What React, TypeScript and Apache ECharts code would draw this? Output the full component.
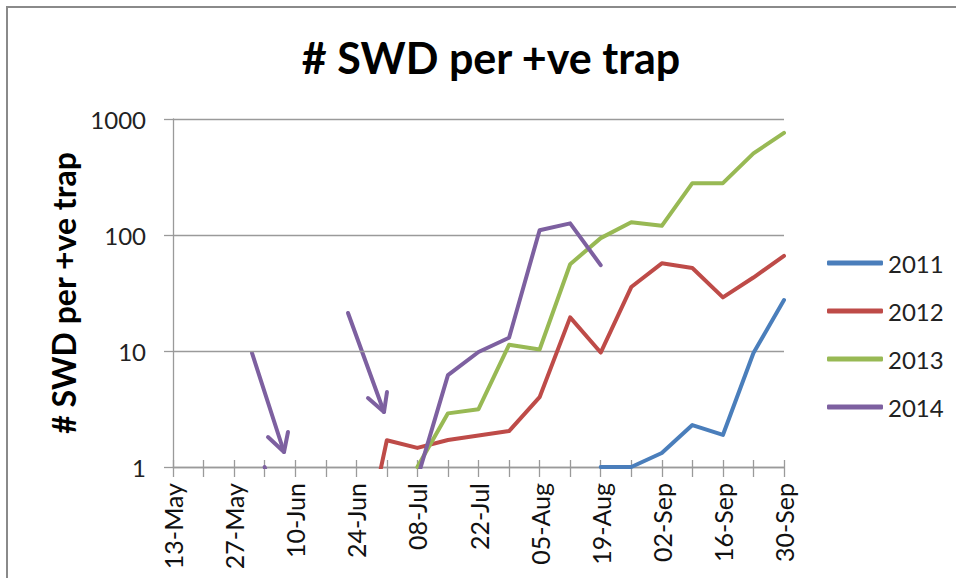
import { useEffect, useRef } from 'react';
import * as echarts from 'echarts';

const weeks = ['13-May','20-May','27-May','03-Jun','10-Jun','17-Jun','24-Jun','01-Jul','08-Jul','15-Jul','22-Jul','29-Jul','05-Aug','12-Aug','19-Aug','26-Aug','02-Sep','09-Sep','16-Sep','23-Sep','30-Sep'];

const s2011 = [null,null,null,null,null,null,null,null,null,null,null,null,null,null,1,1,1.32,2.3,1.89,9.6,27.5];
const s2012 = [null,null,null,null,null,null,0.1,1.7,1.46,1.71,1.87,2.04,4.0,19.5,9.7,35.6,57,52,29,43,66];
const s2013 = [null,null,null,null,null,null,null,null,1,2.9,3.15,11.3,10.3,56,94,129,120,280,280,505,760];
const s2014 = [null,null,null,1,0.1,null,null,null,0.8,6.2,9.8,13,110,126,55,null,null,null,null,null,null];

const seriesNames = ['2011','2012','2013','2014'];
const seriesColors = ['#4A7EBB','#BE4B48','#98B954','#7D60A0'];

const yTicks = [1, 10, 100, 1000];

// annotation arrows (pixel positions)
const arrows = [
  { shaft: [[252,353],[284,452]], head: [[268,437],[284,452],[288,432]] },
  { shaft: [[348,313],[384,412]], head: [[368,398],[384,412],[387,392]] },
];

const FONT = 'Lato';
const axisGray = '#9a9a9a';

export default function App() {
  const ref = useRef<HTMLDivElement>(null);
  useEffect(() => {
    if (!ref.current) return;
    const chart = echarts.init(ref.current, undefined, { renderer: 'svg' });
    const data = [s2011, s2012, s2013, s2014];
    const graphics: any[] = [
      {
        type: 'rect',
        shape: { x: 7, y: 7, width: 980, height: 600 },
        style: { fill: 'none', stroke: '#8a8a8a', lineWidth: 2 },
        silent: true,
      },
    ];
    arrows.forEach((a) => {
      graphics.push({
        type: 'polyline',
        shape: { points: a.shaft },
        style: { stroke: seriesColors[3], lineWidth: 4, lineCap: 'round', fill: 'none' },
      });
      graphics.push({
        type: 'polyline',
        shape: { points: a.head },
        style: { stroke: seriesColors[3], lineWidth: 4, lineCap: 'round', lineJoin: 'round', fill: 'none' },
      });
    });
    chart.setOption({
      animation: false,
      backgroundColor: '#ffffff',
      title: {
        text: '# SWD per +ve trap',
        left: 486,
        top: 31,
        textAlign: 'center',
        textStyle: { fontFamily: FONT, fontWeight: 'bold', fontSize: 43, color: '#000' },
      },
      grid: { left: 173, right: 172, top: 119, bottom: 111, containLabel: false },
      legend: {
        orient: 'vertical',
        left: 822,
        top: 246,
        itemWidth: 56,
        itemHeight: 5,
        itemGap: 24,
        icon: 'roundRect',
        data: seriesNames,
        textStyle: { fontFamily: FONT, fontSize: 24, color: '#222', lineHeight: 24 },
      },
      xAxis: [
        {
          type: 'category',
          data: weeks,
          boundaryGap: false,
          position: 'bottom',
          axisLine: { show: true, lineStyle: { color: axisGray, width: 1.3 } },
          axisTick: { show: true, interval: 0, length: 10, lineStyle: { color: axisGray, width: 1.3 } },
          axisLabel: { interval: 1, rotate: 90, margin: 16, fontFamily: FONT, fontSize: 25, color: '#111' },
          splitLine: { show: false },
        },
        {
          type: 'category',
          data: weeks,
          boundaryGap: false,
          position: 'bottom',
          axisLine: { show: false },
          axisTick: { show: true, inside: true, interval: 0, length: 7, lineStyle: { color: axisGray, width: 1.3 } },
          axisLabel: { show: false },
          splitLine: { show: false },
        },
      ],
      yAxis: {
        type: 'log',
        logBase: 10,
        min: yTicks[0],
        max: yTicks[yTicks.length - 1],
        name: '# SWD per +ve trap',
        nameLocation: 'middle',
        nameRotate: 90,
        nameGap: 88,
        nameTextStyle: { fontFamily: FONT, fontWeight: 'bold', fontSize: 32, color: '#000' },
        axisLine: { show: true, lineStyle: { color: axisGray, width: 1.3 } },
        axisTick: { show: true, length: 9, lineStyle: { color: axisGray, width: 1.3 } },
        axisLabel: { margin: 27, fontFamily: FONT, fontSize: 24, color: '#222', formatter: (v: number) => String(Math.round(v)) },
        splitLine: { show: true, lineStyle: { color: axisGray, width: 1.3 } },
      },
      series: seriesNames.map((n, i) => ({
        name: n,
        type: 'line',
        data: data[i],
        xAxisIndex: 0,
        showSymbol: false,
        symbol: 'none',
        connectNulls: false,
        clip: true,
        color: seriesColors[i],
        lineStyle: { color: seriesColors[i], width: 4, cap: 'round', join: 'round' },
        itemStyle: { color: seriesColors[i] },
      })),
      graphic: graphics,
    });
    return () => chart.dispose();
  }, []);
  return <div ref={ref} style={{ position: 'absolute', left: 0, top: 0, width: 956, height: 578 }} />;
}
